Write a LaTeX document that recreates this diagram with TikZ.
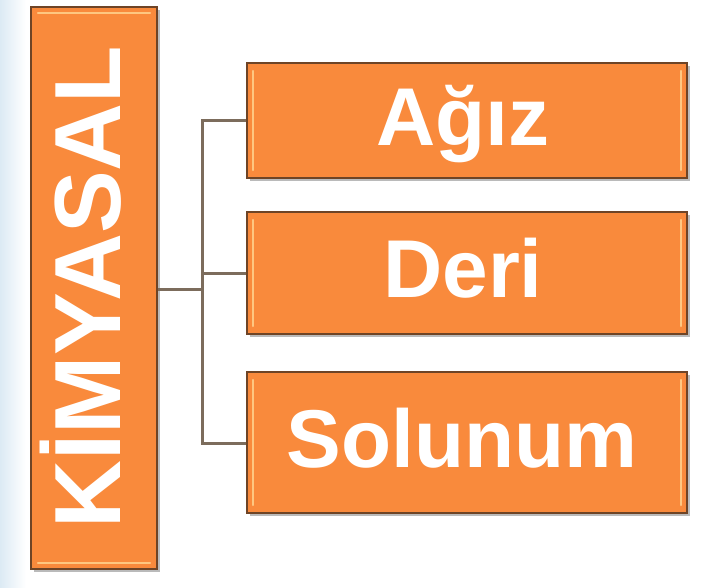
\documentclass[tikz,border=0pt]{standalone}
\usepackage{fontspec}
\setmainfont{Liberation Sans}
\usetikzlibrary{shadows}
\definecolor{boxorange}{HTML}{F98A3C}
\definecolor{boxedge}{HTML}{6E4426}
\definecolor{linkcol}{HTML}{7C6C5C}
\definecolor{hilite}{HTML}{FFD28E}
\definecolor{bgblue}{HTML}{DCEAF4}
\tikzset{
  orangebox/.style={draw=boxedge, line width=2pt, fill=boxorange, inner sep=0pt,
    drop shadow={shadow xshift=3pt, shadow yshift=-3pt, fill=black!45, opacity=0.6}},
  boxlabel/.style={text=white, font=\bfseries\fontsize{82}{82}\selectfont, inner sep=0pt,
    text height=59pt, text depth=0pt},
  vlabel/.style={text=white, font=\bfseries\fontsize{94}{94}\selectfont, inner sep=0pt,
    text height=68pt, text depth=0pt, rotate=90},
  link/.style={draw=linkcol, line width=3pt},
  shine/.style={draw=hilite, line width=2.5pt, line cap=round, opacity=0.85}
}
\begin{document}
\begin{tikzpicture}[x=1pt, y=-1pt]
\useasboundingbox (0,0) rectangle (703,588);
\fill[white] (0,0) rectangle (703,588);
\shade[left color=bgblue, right color=white] (0,0) rectangle (26,588);

% left vertical box
\node[orangebox, minimum width=126pt, minimum height=562pt] (kbox) at (94,288) {};
\draw[shine] ([xshift=8pt,yshift=-7pt]kbox.north west) -- ([xshift=-8pt,yshift=-7pt]kbox.north east);
\draw[shine] ([xshift=8pt,yshift=7pt]kbox.south west) -- ([xshift=-8pt,yshift=7pt]kbox.south east);
\node[vlabel] (ktext) at (86,287) {KİMYASAL};

% right boxes
\node[orangebox, minimum width=440pt, minimum height=115pt] (agiz) at (467,120.5) {};
\node[orangebox, minimum width=440pt, minimum height=122pt] (deri) at (467,273) {};
\node[orangebox, minimum width=440pt, minimum height=141pt] (solunum) at (467,442.5) {};

\foreach \b in {agiz,deri,solunum}{
  \draw[shine] ([xshift=7pt,yshift=-9pt]\b.north west) -- ([xshift=7pt,yshift=9pt]\b.south west);
  \draw[shine] ([xshift=-7pt,yshift=-9pt]\b.north east) -- ([xshift=-7pt,yshift=9pt]\b.south east);
}

\node[boxlabel] (agiztext) at ([xshift=-4pt,yshift=4pt]agiz.center) {Ağız};
\node[boxlabel] (deritext) at ([xshift=-4pt,yshift=5pt]deri.center) {Deri};
\node[boxlabel] (soltext) at ([xshift=-5pt,yshift=5pt]solunum.center) {Solunum};

% connectors
\coordinate (hub) at (202,289);
\coordinate (top) at (202,121);
\coordinate (mid) at (202,273);
\coordinate (bot) at (202,443);
\draw[link] (kbox.east |- hub) -- (hub);
\draw[link] (agiz.west |- top) -- (top) -- (bot) -- (solunum.west |- bot);
\draw[link] (mid) -- (deri.west |- mid);
\end{tikzpicture}
\end{document}
